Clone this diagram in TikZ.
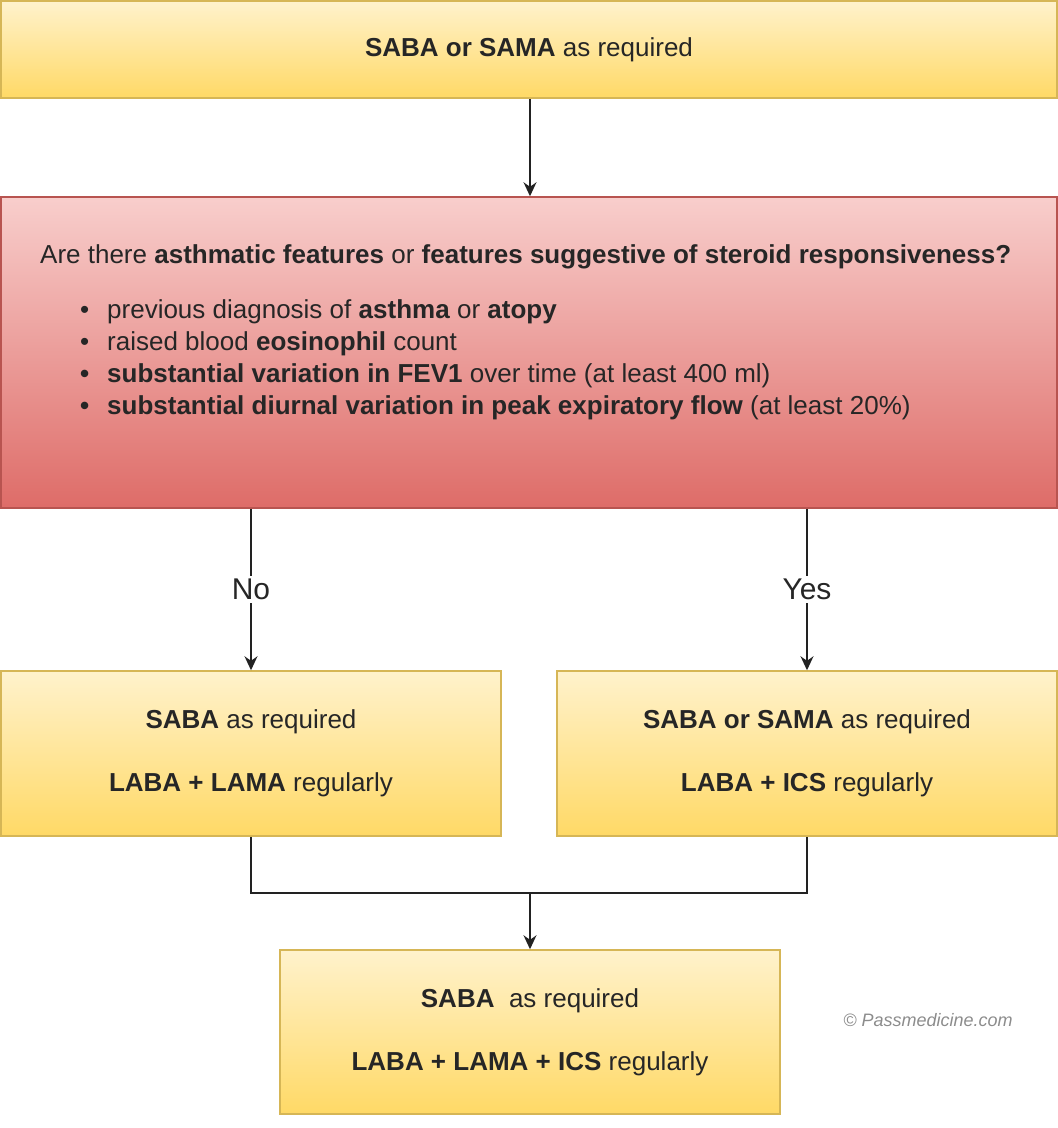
\documentclass[tikz,border=0pt]{standalone}
\usepackage{fontspec}
\setmainfont{Liberation Sans}
\usetikzlibrary{arrows.meta}
\usetikzlibrary{positioning}

\definecolor{yellowtop}{HTML}{FFF2CC}
\definecolor{yellowbottom}{HTML}{FFD966}
\definecolor{yellowline}{HTML}{D6B656}
\definecolor{redtop}{HTML}{F8CECC}
\definecolor{redbottom}{HTML}{DE6C68}
\definecolor{redline}{HTML}{B85450}
\definecolor{linkcol}{HTML}{222222}

\begin{document}
\begin{tikzpicture}[x=1pt, y=-1pt,
      every node/.style={font=\fontsize{26}{31}\selectfont, text=black!85},
      therapy/.style={rectangle, draw=yellowline, top color=yellowtop, bottom color=yellowbottom, line width=1.5pt, minimum width=500pt, align=center, inner sep=0pt},
      question/.style={rectangle, draw=redline, top color=redtop, bottom color=redbottom, line width=1.5pt, inner sep=0pt},
      arrow/.style={-{Stealth[length=14pt,width=13pt]}, line width=1.5pt, draw=linkcol},
      link/.style={line width=1.5pt, draw=linkcol},
      branch/.style={fill=white, inner sep=3pt, font=\fontsize{30}{32}\selectfont}
      ]

      \useasboundingbox (0,0) rectangle (1058,1128);

      % Nodes
      \node[therapy, minimum width=1056pt, minimum height=97pt] (start) at (529,49.5) {\textbf{SABA or SAMA} as required};

      \node[question, minimum width=1056pt, minimum height=311pt] (q) at (529,352.5) {};
      \node[anchor=base west, inner sep=0pt] (qtitle) at (40,263) {Are there \textbf{asthmatic features} or \textbf{features suggestive of steroid responsiveness?}};
      \node[anchor=north west, inner sep=0pt, align=left, font=\fontsize{26}{32}\selectfont] (qlist) at (80,299) {%
        \makebox[27pt][l]{•}previous diagnosis of \textbf{asthma} or \textbf{atopy}\\
        \makebox[27pt][l]{•}raised blood \textbf{eosinophil} count\\
        \makebox[27pt][l]{\textbf{•}}\textbf{substantial variation in FEV1} over time (at least 400 ml)\\
        \makebox[27pt][l]{\textbf{•}}\textbf{substantial diurnal variation in peak expiratory flow} (at least 20\%)};

      \node[therapy, minimum height=165pt] (noopt) at (251,753.5) {\textbf{SABA} as required\\[32pt]\textbf{LABA + LAMA} regularly};
      \node[therapy, minimum height=165pt] (yesopt) at (807,753.5) {\textbf{SABA or SAMA} as required\\[32pt]\textbf{LABA + ICS} regularly};
      \node[therapy, minimum height=164pt] (triple) at (530,1032) {\textbf{SABA}\ \ as required\\[32pt]\textbf{LABA + LAMA + ICS} regularly};

      \node[font=\fontsize{18}{20}\selectfont\itshape, text=black!45] (credit) at (928,1020) {© Passmedicine.com};

      \coordinate (join) at (530,893);

      % Arrows
      \draw[arrow] (start.south -| 530,0) -- (q.north -| 530,0);
      \draw[arrow] (q.south -| noopt.north) -- node[branch] {No} (noopt.north);
      \draw[arrow] (q.south -| yesopt.north) -- node[branch] {Yes} (yesopt.north);
      \draw[link] (noopt.south) |- (join) -| (yesopt.south);
      \draw[arrow] (join) -- (triple.north);

    \end{tikzpicture}
\end{document}
